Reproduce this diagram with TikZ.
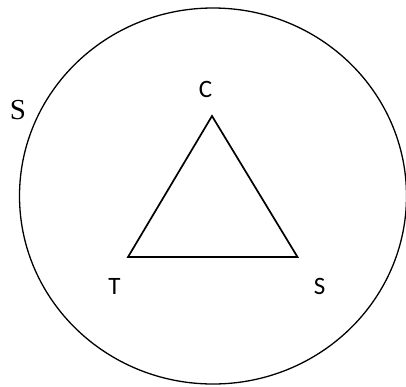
\documentclass[tikz,border=0pt]{standalone}
\usepackage{fontspec}
\setmainfont{Liberation Serif}
\newfontfamily\labelfont{Carlito}
\usetikzlibrary{positioning}
\tikzset{
  outline/.style={draw, line width=1.3pt},
  tribox/.style={draw, line width=1.7pt, line join=miter},
  vertexlabel/.style={font=\labelfont\fontsize{25}{25}\selectfont, inner sep=0pt},
  setlabel/.style={font=\rmfamily\fontsize{29}{29}\selectfont, inner sep=0pt}
}

\begin{document}
\begin{tikzpicture}[x=1pt, y=-1pt]
      \useasboundingbox (0,0) rectangle (406,386);
      \draw[outline] (213,196) ellipse [x radius=193.5, y radius=188];
      \coordinate (c) at (212,116);
      \coordinate (t) at (128,257);
      \coordinate (s) at (297.5,257);
      \draw[tribox] (c) -- (t) -- (s) -- cycle;
      \node[setlabel] (setS) at (18,110) {S};
      \node[vertexlabel] (lc) at (205.5,89.5) {C};
      \node[vertexlabel] (lt) at (114.5,286.5) {T};
      \node[vertexlabel] (ls) at (319.5,286.5) {S};
    \end{tikzpicture}
\end{document}
